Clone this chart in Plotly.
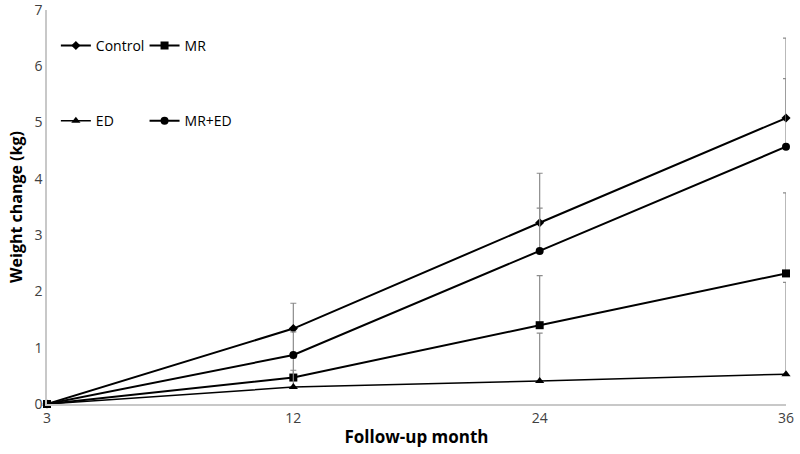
import plotly.graph_objects as go

months = ["3", "12", "24", "36"]
control = [0, 1.34, 3.22, 5.08]
mr = [0, 0.47, 1.40, 2.32]
ed = [0, 0.30, 0.41, 0.53]
mred = [0, 0.87, 2.72, 4.57]
control_err = [0, 0.45, 0.88, 1.42]
mr_err = [0, 0.35, 0.88, 1.43]
ed_err = [0, 0.30, 0.85, 1.63]
mred_err = [0, 0.41, 0.76, 1.21]

xpos = list(range(len(months)))

fig = go.Figure()

def add(name, y, err, symbol, size, width, legend):
    fig.add_trace(go.Scatter(
        x=xpos, y=y, name=name, mode="lines+markers",
        line=dict(color="black", width=width),
        marker=dict(symbol=symbol, size=size, color="black"),
        error_y=dict(type="data", array=err, symmetric=False, arrayminus=[0]*len(err),
                     color="#8c8c8c", thickness=1.2, width=3),
        cliponaxis=False, legend=legend, showlegend=True,
    ))

add("Control", control, control_err, "diamond", 7, 2.0, "legend")
add("MR", mr, mr_err, "square", 8, 2.0, "legend2")
add("ED", ed, ed_err, "triangle-up", 8, 1.5, "legend3")
add("MR+ED", mred, mred_err, "circle", 8, 2.0, "legend4")

legfont = dict(family="Open Sans, Liberation Sans, sans-serif", size=14, color="black")

def leg(x, y):
    return dict(orientation="h", x=x, y=y, xanchor="left", yanchor="middle",
                font=legfont, itemwidth=30, bgcolor="rgba(0,0,0,0)",
                borderwidth=0, tracegroupgap=0, visible=True)

fig.update_layout(
    width=800, height=454, showlegend=True,
    margin=dict(l=47, r=14, t=10, b=50, autoexpand=False),
    paper_bgcolor="white", plot_bgcolor="white",
    font=dict(family="Open Sans, Liberation Sans, sans-serif", size=14, color="#404040"),
    legend=leg(0.012, 0.909),
    legend2=leg(0.132, 0.909),
    legend3=leg(0.012, 0.718),
    legend4=leg(0.132, 0.718),
    xaxis=dict(
        tickmode="array", tickvals=xpos, ticktext=months, range=[0, 3],
        showgrid=False, zeroline=False, showline=True, linecolor="#c8c8c8", linewidth=1.5,
        ticks="", tickfont=dict(size=14, color="#404040"), automargin=False,
        ticklabeloverflow="allow",
        title=dict(text="<b>Follow-up month</b>", font=dict(size=17, color="black"), standoff=6),
    ),
    yaxis=dict(
        range=[0, 7], dtick=1, showgrid=False, zeroline=False,
        showline=True, linecolor="#c8c8c8", linewidth=1.5, ticks="",
        tickfont=dict(size=14, color="#404040"), automargin=False,
        ticklabeloverflow="allow",
        title=dict(text="<b>Weight change (kg)</b>", font=dict(size=16, color="black"), standoff=8),
    ),
)

fig.write_html("out.html", config={"displayModeBar": False},
               post_script="document.body.style.margin='0';")
